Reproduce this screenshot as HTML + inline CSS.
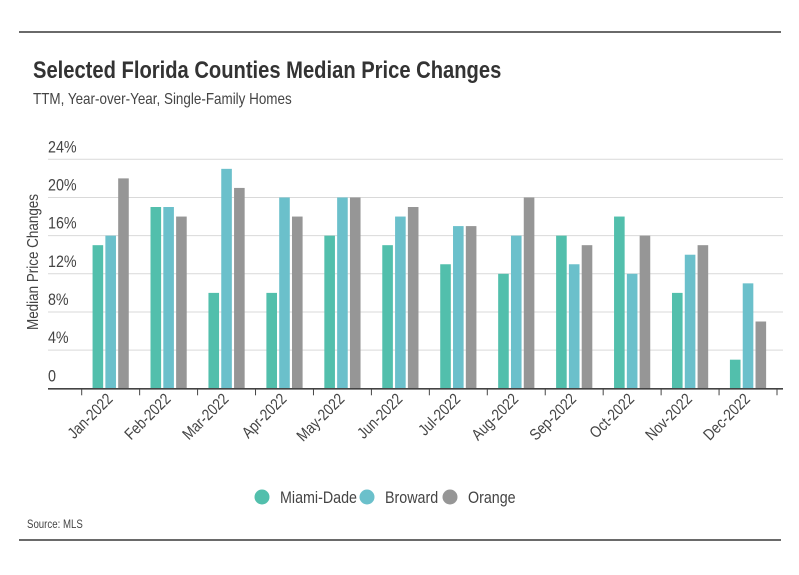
<!DOCTYPE html>
<html><head><meta charset="utf-8"><style>
body{margin:0;background:#fff;}
svg{display:block;font-family:"Liberation Sans Narrow","Liberation Sans",sans-serif;}
</style></head><body>
<svg width="799" height="575" viewBox="0 0 799 575">
<line x1="19" y1="32" x2="781" y2="32" stroke="#111" stroke-width="1.2"/>
<text x="33" y="78" font-size="24" font-weight="bold" fill="#333">Selected Florida Counties Median Price Changes</text>
<text x="33" y="104" font-size="16" fill="#444">TTM, Year-over-Year, Single-Family Homes</text>
<g id="grid"></g>
<g id="bars"></g>
<g id="xaxis"></g>
<text transform="translate(38,262) rotate(-90)" text-anchor="middle" font-size="16" fill="#444">Median Price Changes</text>
<g>
<g><circle cx="262" cy="497" r="7.5" fill="#52bfac"/><text x="280" y="503" font-size="17" fill="#444">Miami-Dade</text></g>
<g><circle cx="367" cy="497" r="7.5" fill="#6bc0cb"/><text x="385" y="503" font-size="17" fill="#444">Broward</text></g>
<g><circle cx="450" cy="497" r="7.5" fill="#969696"/><text x="468" y="503" font-size="17" fill="#444">Orange</text></g>
</g>
<text x="27" y="528" font-size="11.5" fill="#444">Source: MLS</text>
<line x1="19" y1="540" x2="781" y2="540" stroke="#111" stroke-width="1.2"/>
</svg>
<script>
const categories=["Jan-2022","Feb-2022","Mar-2022","Apr-2022","May-2022","Jun-2022","Jul-2022","Aug-2022","Sep-2022","Oct-2022","Nov-2022","Dec-2022"];
const miamiDade=[15,19,10,10,16,15,13,12,16,18,10,3];
const broward=[16,19,23,20,20,18,17,16,13,12,14,11];
const orange=[22,18,21,18,20,19,17,20,15,16,15,7];
const yTicks=[0,4,8,12,16,20,24];
const yTickLabels=["0","4%","8%","12%","16%","20%","24%"];
const NS="http://www.w3.org/2000/svg";
const x0=81.7,x1=777,y0=388.3,yTop=159.3,vMax=24;
const bw=(x1-x0)/categories.length;
function y(v){return y0-(v/vMax)*(y0-yTop);}
function bandCenter(i){return x0+bw*(i+0.5);}
function mk(tag,attrs,parent){const e=document.createElementNS(NS,tag);for(const k in attrs)e.setAttribute(k,attrs[k]);parent.appendChild(e);return e;}
const grid=document.getElementById('grid');
yTicks.forEach((t,i)=>{
  if(t>0){const l=mk('line',{x1:48,x2:783,y1:y(t),y2:y(t),stroke:'#d9d9d9','stroke-width':1},grid);
  
  }
  const tx=mk('text',{x:48,y:y(t)-7,'font-size':17,fill:'#444'},grid);
  tx.textContent=yTickLabels[i];
  
  
});
const bars=document.getElementById('bars');
const series=[[miamiDade,'#52bfac','miami-dade'],[broward,'#6bc0cb','broward'],[orange,'#969696','orange']];
const barW=10.6,gap=2.2;
categories.forEach((c,i)=>{
  const cx=bandCenter(i);
  series.forEach((s,j)=>{
    const bx=cx+(j-1)*(barW+gap)-barW/2;
    const r=mk('rect',{x:bx,y:y(s[0][i]),width:barW,height:y0-y(s[0][i]),fill:s[1]},bars);
    
    
  });
});
const xa=document.getElementById('xaxis');
const ax=mk('line',{x1:48,x2:783,y1:y0+0.5,y2:y0+0.5,stroke:'#444','stroke-width':1.6},xa);


for(let i=0;i<=categories.length;i++){
  const tx=x0+bw*i;
  const tk=mk('line',{x1:tx,x2:tx,y1:y0,y2:y0+7,stroke:'#444','stroke-width':1},xa);
  
  
}
categories.forEach((c,i)=>{
  const cx=bandCenter(i)+3;
  const t=mk('text',{x:0,y:0,transform:`translate(${cx},400) rotate(-45)`,'text-anchor':'end','font-size':16,fill:'#444'},xa);
  t.textContent=c;
  
  
});
document.querySelectorAll('svg text').forEach(t=>{
  const w=t.getComputedTextLength();
  t.setAttribute('textLength',(w*0.84).toFixed(1));
  t.setAttribute('lengthAdjust','spacingAndGlyphs');
});
</script>
</body></html>
